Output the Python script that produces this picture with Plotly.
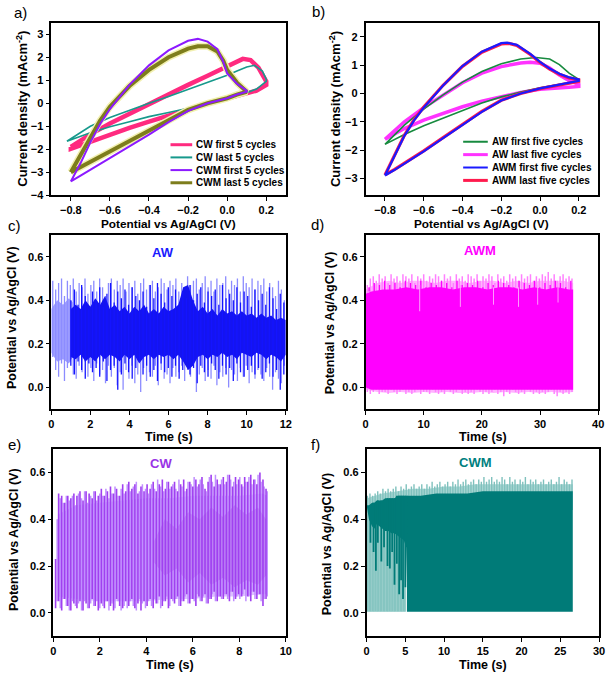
import numpy as np
import plotly.graph_objects as go

W, H = 614, 682
FONT = "Liberation Sans"

# ---------------- Panel a: CV of CW / CWM ----------------
cw_first_x = [-0.80,-0.75,-0.70,-0.60,-0.50,-0.40,-0.30,-0.20,-0.10,0.00,0.05,0.08,0.12,0.16,0.20,
              0.20,0.15,0.10,0.05,0.00,-0.10,-0.20,-0.30,-0.40,-0.50,-0.60,-0.70,-0.80]
cw_first_y = [-1.90,-1.62,-1.35,-0.88,-0.45,-0.05,0.38,0.80,1.20,1.62,1.85,1.93,1.88,1.55,0.95,
              0.80,0.55,0.42,0.32,0.20,-0.02,-0.27,-0.52,-0.80,-1.07,-1.38,-1.66,-1.98]
cw_last_x = [-0.82,-0.75,-0.70,-0.60,-0.50,-0.40,-0.30,-0.20,-0.10,0.00,0.05,0.10,0.14,0.18,0.20,
             0.20,0.15,0.10,0.05,0.00,-0.10,-0.20,-0.30,-0.40,-0.50,-0.60,-0.70,-0.82]
cw_last_y = [-1.65,-1.25,-1.00,-0.62,-0.30,0.00,0.30,0.60,0.90,1.22,1.40,1.58,1.65,1.40,1.05,
             0.95,0.62,0.45,0.30,0.15,-0.05,-0.22,-0.40,-0.58,-0.80,-1.02,-1.28,-1.65]
cwm_first_x = [-0.80,-0.77,-0.75,-0.70,-0.65,-0.60,-0.50,-0.40,-0.30,-0.20,-0.15,-0.10,-0.05,-0.02,0.00,0.05,0.10,
               0.10,0.05,0.00,-0.10,-0.20,-0.30,-0.40,-0.50,-0.60,-0.70,-0.75,-0.80]
cwm_first_y = [-3.40,-2.95,-2.60,-1.70,-0.90,-0.25,0.80,1.65,2.30,2.72,2.80,2.68,2.35,1.80,1.30,0.85,0.55,
               0.50,0.38,0.22,0.00,-0.33,-0.82,-1.36,-1.88,-2.40,-2.90,-3.15,-3.40]
cwm_last_x = [-0.80,-0.77,-0.75,-0.70,-0.65,-0.60,-0.50,-0.40,-0.30,-0.20,-0.15,-0.10,-0.05,-0.02,0.00,0.05,0.10,
              0.10,0.05,0.00,-0.10,-0.20,-0.30,-0.40,-0.50,-0.60,-0.70,-0.75,-0.80]
cwm_last_y = [-3.00,-2.55,-2.25,-1.45,-0.75,-0.15,0.75,1.45,2.00,2.38,2.48,2.48,2.25,1.85,1.45,0.90,0.55,
              0.50,0.38,0.22,0.00,-0.29,-0.74,-1.19,-1.64,-2.09,-2.55,-2.78,-3.00]

# ---------------- Panel b: CV of AW / AWM ----------------
aw_first_x = [-0.80,-0.70,-0.60,-0.50,-0.40,-0.30,-0.20,-0.10,-0.02,0.05,0.10,0.15,0.20,
              0.20,0.15,0.10,0.05,0.00,-0.10,-0.20,-0.30,-0.40,-0.50,-0.60,-0.70,-0.80]
aw_first_y = [-1.80,-1.12,-0.55,-0.05,0.40,0.78,1.05,1.22,1.27,1.22,1.02,0.72,0.50,
              0.45,0.38,0.32,0.26,0.20,0.05,-0.12,-0.34,-0.60,-0.86,-1.14,-1.45,-1.80]
aw_last_x = [-0.80,-0.70,-0.60,-0.50,-0.40,-0.30,-0.20,-0.10,-0.05,0.00,0.05,0.10,0.15,0.20,
             0.20,0.15,0.10,0.05,0.00,-0.10,-0.20,-0.30,-0.40,-0.50,-0.60,-0.70,-0.80]
aw_last_y = [-1.62,-1.00,-0.50,-0.05,0.38,0.72,0.95,1.08,1.10,1.07,0.90,0.65,0.45,0.32,
             0.25,0.22,0.20,0.18,0.15,0.04,-0.10,-0.27,-0.47,-0.70,-0.94,-1.24,-1.62]
awm_first_x = [-0.80,-0.75,-0.70,-0.65,-0.60,-0.50,-0.40,-0.30,-0.20,-0.17,-0.12,-0.05,0.00,0.05,0.10,0.15,0.20,
               0.20,0.15,0.10,0.05,0.00,-0.10,-0.20,-0.30,-0.40,-0.50,-0.60,-0.70,-0.75,-0.80]
awm_first_y = [-2.90,-2.20,-1.50,-0.95,-0.50,0.28,0.97,1.48,1.78,1.80,1.72,1.40,1.12,0.88,0.70,0.57,0.50,
               0.45,0.38,0.32,0.25,0.18,0.00,-0.25,-0.65,-1.10,-1.58,-2.05,-2.50,-2.70,-2.90]
awm_last_x = [-0.80,-0.75,-0.70,-0.65,-0.60,-0.50,-0.40,-0.30,-0.20,-0.16,-0.12,-0.05,0.00,0.05,0.10,0.15,0.20,
              0.20,0.15,0.10,0.05,0.00,-0.10,-0.20,-0.30,-0.40,-0.50,-0.60,-0.70,-0.75,-0.80]
awm_last_y = [-2.88,-2.17,-1.48,-0.93,-0.48,0.29,0.96,1.46,1.75,1.77,1.70,1.38,1.10,0.86,0.68,0.55,0.48,
              0.43,0.36,0.30,0.24,0.17,0.00,-0.24,-0.63,-1.08,-1.56,-2.03,-2.48,-2.68,-2.88]

# ---------------- Panel c: AW potential vs time ----------------
aw_pale_core_t = [0.0, 0.3, 0.6, 0.9, 1.1]
aw_pale_core_hi = [0.36, 0.40, 0.38, 0.41, 0.39]
aw_pale_core_lo = [0.16, 0.12, 0.13, 0.11, 0.14]
aw_core_t = [1.0,1.25,1.5,1.75,2.0,2.25,2.5,2.75,3.0,3.25,3.5,3.75,4.0,4.25,4.5,4.75,5.0,5.25,5.5,5.75,
             6.0,6.25,6.5,6.75,7.0,7.25,7.5,7.75,8.0,8.25,8.5,8.75,9.0,9.25,9.5,9.75,10.0,10.25,10.5,10.75,
             11.0,11.25,11.5,11.75,12.0]
aw_core_hi = [0.36,0.38,0.36,0.40,0.37,0.41,0.38,0.42,0.36,0.38,0.35,0.37,0.34,0.37,0.35,0.38,0.34,0.36,0.34,0.37,
              0.35,0.36,0.38,0.46,0.47,0.40,0.35,0.37,0.34,0.36,0.33,0.36,0.34,0.35,0.33,0.35,0.33,0.34,0.32,0.34,
              0.32,0.33,0.31,0.32,0.31]
aw_core_lo = [0.14,0.13,0.15,0.12,0.14,0.12,0.15,0.13,0.15,0.14,0.12,0.15,0.13,0.15,0.11,0.14,0.15,0.13,0.15,0.14,
              0.15,0.13,0.15,0.12,0.08,0.10,0.14,0.15,0.13,0.15,0.14,0.16,0.14,0.15,0.13,0.16,0.15,0.14,0.16,0.15,
              0.13,0.15,0.14,0.12,0.15]
aw_pale_hi = [0.49,0.45,0.48,0.50,0.42,0.49,0.47,0.50,0.44,0.48,
              0.46,0.50,0.43,0.47,0.49,0.44,0.50,0.46,0.42,0.48,
              0.50,0.45,0.49,0.47,0.50,0.44,0.48,0.46,0.49,0.43,
              0.48,0.50,0.45,0.47,0.49,0.44,0.46,0.50,0.48,0.45,
              0.49,0.47,0.50,0.44,0.48,0.46,0.51,0.47,0.49,0.50,
              0.45,0.48,0.51,0.46,0.49,0.44,0.50,0.47,0.48,0.51,
              0.45,0.49,0.47,0.50,0.44,0.51,0.48,0.46,0.50,0.45,
              0.49,0.47,0.50,0.44,0.48,0.46,0.42,0.49,0.45,0.40]
aw_pale_lo = [0.14,0.08,0.05,0.11,0.03,0.09,0.12,0.06,0.04,0.10,
              0.07,0.12,0.05,0.09,0.03,0.11,0.06,0.08,0.02,0.10,
              0.05,0.09,0.01,0.07,-0.01,0.08,0.04,0.10,0.02,0.06,
              -0.02,0.09,0.03,0.07,0.05,0.10,0.01,0.08,0.04,0.06,
              0.02,0.09,0.05,0.07,0.10,0.03,0.08,0.05,0.11,-0.02,
              0.06,0.09,0.03,0.08,0.04,0.10,0.01,0.07,0.05,0.09,
              0.00,0.08,0.06,0.03,0.09,0.05,0.10,0.02,0.07,0.04,
              0.08,0.06,0.03,0.09,0.05,-0.01,0.07,0.04,0.02,0.10]
aw_dark_hi = [0.40,0.45,0.38,0.47,0.42,0.36,0.44,0.40,0.46,0.37,0.43,0.48,0.39,0.44,0.41,0.45,0.38,0.46,0.42,0.40,
              0.44,0.37,0.47,0.41,0.48,0.43,0.39,0.46,0.42,0.45,0.38,0.44,0.41,0.47,0.40,0.43,0.46,0.39,0.44,0.42,
              0.45,0.38,0.47,0.41,0.43,0.40,0.46,0.39,0.44,0.42,0.37,0.45,0.40,0.43,0.38,0.46,0.41,0.36,0.43,0.39]
aw_dark_lo = [0.10,0.06,0.12,0.08,0.04,0.11,0.07,0.09,0.05,0.12,0.03,0.08,0.10,-0.01,0.06,0.11,0.07,0.04,0.09,0.12,
              0.06,0.10,0.05,0.08,0.03,0.11,0.07,0.09,0.05,0.10,0.04,0.08,0.12,0.06,0.09,0.02,0.10,0.07,0.05,0.11,
              0.08,0.04,0.10,0.06,0.09,0.03,0.11,0.07,0.05,0.08,0.10,0.06,0.09,0.04,0.07,0.11,0.05,0.08,-0.01,0.06]

# ---------------- Panel d: AWM potential vs time ----------------
awm_core_t = [0.05, 1, 3, 5, 7, 9, 11, 13, 15, 17, 19, 21, 23, 25, 27, 29, 31, 33, 35, 35.7]
awm_core_hi = [0.43,0.44,0.45,0.45,0.46,0.45,0.46,0.46,0.45,0.46,0.46,0.45,0.46,0.46,0.45,0.46,0.45,0.46,0.45,0.45]
awm_core_lo = [0.00,-0.01,-0.01,-0.01,-0.01,-0.01,-0.01,-0.01,-0.01,-0.01,-0.01,-0.01,-0.01,-0.01,-0.01,-0.01,-0.01,-0.01,-0.01,-0.01]
awm_fringe_t = [0.05, 2, 4, 6, 8, 10, 12, 14, 16, 18, 20, 22, 24, 26, 28, 30, 32, 34, 35.7]
awm_fringe_hi = [0.45,0.48,0.49,0.48,0.49,0.49,0.48,0.49,0.49,0.48,0.49,0.49,0.48,0.49,0.48,0.49,0.49,0.49,0.48]
awm_fringe_lo = [-0.01,-0.02,-0.025,-0.02,-0.025,-0.02,-0.025,-0.02,-0.025,-0.025,-0.02,-0.025,-0.02,-0.025,-0.02,-0.025,-0.02,-0.025,-0.02]
awm_tip_hi = [0.47,0.50,0.51,0.49,0.52,0.50,0.51,0.48,0.52,0.50,0.51,0.49,0.52,0.51,0.50,0.52,0.48,0.51,0.50,0.52,
              0.49,0.51,0.50,0.52,0.51,0.49,0.52,0.50,0.51,0.48,0.52,0.50,0.51,0.49,0.52,0.51,0.50,0.52,0.49,0.51,
              0.50,0.52,0.51,0.48,0.52,0.50,0.51,0.49,0.52,0.50,0.51,0.49,0.52,0.50,0.51,0.52,0.49,0.51,0.50,0.52,
              0.51,0.53,0.50,0.52,0.49,0.51,0.52,0.50,0.51,0.50]
awm_tip_lo = [-0.02,-0.03,-0.02,-0.01,-0.03,-0.02,-0.02,-0.03,-0.01,-0.02,-0.03,-0.02,-0.01,-0.03,-0.02,-0.03,-0.02,-0.01,-0.03,-0.02,
              -0.02,-0.03,-0.01,-0.02,-0.03,-0.02,-0.03,-0.01,-0.02,-0.03,-0.02,-0.01,-0.03,-0.02,-0.03,-0.02,-0.03,-0.01,-0.02,-0.03,
              -0.02,-0.03,-0.02,-0.01,-0.03,-0.02,-0.04,-0.02,-0.03,-0.01,-0.02,-0.03,-0.02,-0.03,-0.01,-0.02,-0.03,-0.02,-0.03,-0.02,
              -0.03,-0.02,-0.01,-0.03,-0.04,-0.02,-0.03,-0.02,-0.03,-0.02]
awm_dtip_hi = [0.46,0.48,0.47,0.49,0.47,0.48,0.46,0.49,0.48,0.47,0.49,0.46,0.48,0.47,0.49,0.48,0.46,0.49,0.47,0.48,
               0.47,0.49,0.46,0.48,0.47,0.49,0.48,0.47,0.46,0.49,0.48,0.47,0.49,0.46,0.48,0.47,0.49,0.48,0.46,0.49]
awm_notch_t = [9.3, 16.3, 22.0, 26.3, 29.6, 33.1]
awm_notch_lo = [0.35, 0.37, 0.38, 0.37, 0.38, 0.39]
awm_notch_hi = [0.47, 0.47, 0.46, 0.46, 0.47, 0.48]

# ---------------- Panel e: CW potential vs time ----------------
cw_core_t = [0.2, 1, 2, 3, 4, 5, 6, 7, 8, 9, 9.2]
cw_core_hi = [0.42,0.46,0.47,0.48,0.49,0.49,0.50,0.50,0.50,0.51,0.50]
cw_core_lo = [0.07,0.06,0.05,0.05,0.05,0.06,0.06,0.07,0.07,0.08,0.08]
cw_dcore_t = [4.3, 4.8, 5.3, 5.8, 6.3, 6.8, 7.3, 7.8, 8.3, 8.8, 9.15]
cw_dcore_hi = [0.30,0.40,0.36,0.43,0.40,0.45,0.41,0.46,0.42,0.45,0.40]
cw_dcore_lo = [0.22,0.16,0.19,0.13,0.17,0.12,0.15,0.11,0.14,0.12,0.16]
cw_dark_hi = [0.23,0.51,0.50,0.47,0.50,0.49,0.51,
              0.50,0.52,0.48,0.52,0.51,0.49,0.52,0.50,
              0.53,0.50,0.52,0.54,0.51,0.53,0.50,0.55,
              0.52,0.56,0.53,0.55,0.51,0.54,0.52,0.55,
              0.53,0.56,0.52,0.55,0.57,0.53,0.56,0.54,
              0.56,0.52,0.55,0.57,0.53,0.56,0.54,0.57,
              0.55,0.58,0.53,0.56,0.59,0.54,0.57,0.55,
              0.58,0.56,0.59,0.54,0.58,0.57,0.55,0.58,
              0.56,0.59,0.57,0.55,0.60,0.57,0.53]
cw_dark_lo = [0.02,0.05,0.01,0.06,0.03,0.01,0.04,
              0.02,0.05,0.01,0.04,0.02,0.06,0.03,0.01,
              0.04,0.02,0.05,0.03,0.01,0.06,0.03,0.02,
              0.05,0.03,0.06,0.02,0.04,0.01,0.05,0.03,
              0.06,0.02,0.04,0.07,0.03,0.05,0.02,0.06,
              0.04,0.07,0.03,0.05,0.08,0.04,0.06,0.03,
              0.07,0.05,0.08,0.04,0.06,0.09,0.05,0.07,
              0.06,0.08,0.05,0.09,0.06,0.08,0.07,0.10,
              0.07,0.05,0.09,0.06,0.08,0.03,0.06]
cw_pale_hi = [0.40,0.49,0.47,0.50,0.48,0.50,0.46,
              0.51,0.49,0.52,0.47,0.50,0.52,0.48,0.51,
              0.50,0.53,0.49,0.51,0.54,0.50,0.53,0.51,
              0.55,0.52,0.54,0.56,0.52,0.55,0.53,0.51,
              0.55,0.53,0.57,0.54,0.52,0.56,0.53,0.55,
              0.53,0.57,0.54,0.52,0.56,0.55,0.58,0.54,
              0.57,0.55,0.52,0.58,0.56,0.59,0.55,0.57,
              0.55,0.59,0.57,0.56,0.55,0.58,0.54,0.56,
              0.58,0.55,0.57,0.59,0.56,0.54,0.52]
cw_pale_lo = [0.05,0.02,0.06,0.03,0.01,0.05,0.03,
              0.04,0.01,0.05,0.02,0.04,0.03,0.05,0.02,
              0.03,0.05,0.01,0.04,0.02,0.05,0.01,0.03,
              0.02,0.05,0.03,0.01,0.06,0.04,0.02,0.05,
              0.03,0.06,0.04,0.02,0.05,0.07,0.03,0.05,
              0.06,0.03,0.05,0.07,0.04,0.06,0.05,0.08,
              0.05,0.07,0.04,0.06,0.08,0.05,0.07,0.06,
              0.08,0.06,0.09,0.05,0.07,0.06,0.08,0.05,
              0.07,0.09,0.06,0.08,0.05,0.06,0.07]

# ---------------- Panel f: CWM potential vs time ----------------
cwm_core_t = [5.2, 7, 9, 11, 13, 15, 17, 19, 21, 23, 25, 26.6]
cwm_core_hi = [0.50,0.50,0.51,0.51,0.51,0.52,0.52,0.52,0.52,0.52,0.52,0.52]
cwm_core_lo = [0.005,0.005,0.005,0.005,0.005,0.005,0.005,0.005,0.005,0.005,0.005,0.005]
cwm_fringe_t = [0.05, 2, 4, 6, 8, 10, 12, 14, 16, 18, 20, 22, 24, 26.6]
cwm_fringe_hi = [0.49,0.51,0.52,0.53,0.53,0.54,0.54,0.55,0.55,0.55,0.55,0.55,0.55,0.55]
cwm_early_t = [0.05, 0.3, 0.7, 1.0, 1.3, 1.6, 2.0, 2.4, 2.8, 3.2, 3.6, 4.0, 4.4, 4.8, 5.1, 5.3]
cwm_early_hi = [0.46,0.46,0.47,0.47,0.48,0.48,0.48,0.49,0.49,0.49,0.49,0.50,0.50,0.50,0.50,0.50]
cwm_early_lo = [0.45,0.40,0.37,0.36,0.38,0.37,0.36,0.35,0.35,0.34,0.34,0.33,0.32,0.31,0.28,0.005]
cwm_tip_hi = [0.50,0.51,0.50,0.51,0.52,0.51,0.53,0.52,0.53,0.52,
              0.53,0.54,0.52,0.54,0.53,0.55,0.53,0.54,0.55,0.53,
              0.54,0.55,0.53,0.55,0.54,0.56,0.54,0.55,0.56,0.54,
              0.55,0.56,0.54,0.56,0.55,0.57,0.55,0.56,0.57,0.55,
              0.56,0.57,0.55,0.57,0.56,0.58,0.56,0.57,0.58,0.56,
              0.57,0.56,0.58,0.57,0.55,0.58,0.56,0.57,0.55,0.57,
              0.56,0.58,0.55,0.57,0.56,0.57,0.55,0.56,0.57,0.55,
              0.56,0.57,0.55,0.56,0.58,0.55,0.57,0.56,0.55,0.57]
cwm_pale_t = [0.15,0.35,0.55,0.75,0.95,1.15,1.35,1.55,1.75,1.95,2.15,2.35,2.55,2.75,2.95,3.15,3.35,3.55,
              3.75,3.95,4.15,4.35,4.55,4.75,4.95]
cwm_pale_hi = [0.45,0.42,0.40,0.38,0.40,0.39,0.40,0.38,0.39,0.37,0.38,0.36,0.38,0.37,0.36,0.38,0.35,0.37,
               0.36,0.35,0.37,0.34,0.36,0.35,0.33]
cwm_dark_t = [0.5, 0.9, 1.2, 1.45, 1.9, 2.25, 2.7, 3.0, 3.3, 3.6, 3.9, 4.2, 4.45, 4.7, 5.0]
cwm_dark_lo = [0.30,0.26,0.18,0.30,0.22,0.28,0.20,0.19,0.26,0.12,0.21,0.08,0.14,0.06,0.11]
cwm_dark_hi = [0.46,0.47,0.47,0.48,0.48,0.48,0.49,0.49,0.49,0.49,0.50,0.50,0.50,0.50,0.50]

# ---------------- helpers ----------------
def px(x):
    return x / W

def py(y):
    return 1 - y / H

fig = go.Figure()

def line(x, y, color, width, ax):
    fig.add_trace(go.Scatter(x=x, y=y, mode="lines", line=dict(color=color, width=width),
                             xaxis="x" + ax, yaxis="y" + ax, showlegend=False, hoverinfo="skip"))

def band(t, lo, hi, color, ax):
    xs = list(t) + list(t)[::-1]
    ys = list(hi) + list(lo)[::-1]
    fig.add_trace(go.Scatter(x=xs, y=ys, mode="lines", fill="toself", fillcolor=color,
                             line=dict(width=0, color=color), xaxis="x" + ax, yaxis="y" + ax,
                             showlegend=False, hoverinfo="skip"))

def vlines(t, lo, hi, color, width, ax):
    xs, ys = [], []
    for a, l, h in zip(t, lo, hi):
        xs += [float(a), float(a), None]
        ys += [l, h, None]
    fig.add_trace(go.Scatter(x=xs, y=ys, mode="lines", line=dict(color=color, width=width),
                             xaxis="x" + ax, yaxis="y" + ax, showlegend=False, hoverinfo="skip",
                             connectgaps=False))

def closed(x, y):
    return x + x[:1], y + y[:1]

# Panel a
line(*closed(cw_first_x, cw_first_y), "#ff2a7f", 4.5, "")
line(*closed(cw_last_x, cw_last_y), "#17998c", 1.6, "")
line(*closed(cwm_last_x, cwm_last_y), "#f2f0b0", 7, "")
line(*closed(cwm_last_x, cwm_last_y), "#7d7d1c", 4, "")
line(*closed(cwm_first_x, cwm_first_y), "#8c1aff", 2, "")

# Panel b
line(*closed(aw_last_x, aw_last_y), "#ff33ff", 3.5, "2")
line(*closed(aw_first_x, aw_first_y), "#178a3f", 1.6, "2")
line(*closed(awm_last_x, awm_last_y), "#ff1a4d", 3.2, "2")
line(*closed(awm_first_x, awm_first_y), "#1a1aff", 2.2, "2")

# Panel c
aw_spike_t = np.linspace(0.075, 11.925, len(aw_pale_hi))
aw_dark_t = np.linspace(1.0, 11.9, len(aw_dark_hi))
band(aw_pale_core_t, aw_pale_core_lo, aw_pale_core_hi, "#9d9dff", "3")
vlines(aw_spike_t, aw_pale_lo, aw_pale_hi, "#8c8cff", 1.3, "3")
band(aw_core_t, aw_core_lo, aw_core_hi, "#1414f0", "3")
vlines(aw_dark_t, aw_dark_lo, aw_dark_hi, "#1414ff", 1.3, "3")

# Panel d
awm_tip_t = np.linspace(0.3, 35.5, len(awm_tip_hi))
awm_dtip_t = np.linspace(0.6, 35.3, len(awm_dtip_hi))
band(awm_fringe_t, awm_fringe_lo, awm_fringe_hi, "#ffb3ff", "4")
vlines(awm_tip_t, awm_tip_lo, awm_tip_hi, "#ff80ff", 1.5, "4")
band(awm_core_t, awm_core_lo, awm_core_hi, "#ff00ff", "4")
vlines(awm_dtip_t, [0.44] * len(awm_dtip_hi), awm_dtip_hi, "#ff00ff", 1.3, "4")
vlines(awm_notch_t, awm_notch_lo, awm_notch_hi, "#ff99ff", 1.0, "4")

# Panel e
cw_dark_t = np.linspace(0.1, 9.15, len(cw_dark_hi))
cw_pale_t = np.linspace(0.17, 9.2, len(cw_pale_hi))
band(cw_core_t, cw_core_lo, cw_core_hi, "#dcc0ff", "5")
vlines(cw_pale_t, cw_pale_lo, cw_pale_hi, "#c08fff", 1.5, "5")
band(cw_dcore_t, cw_dcore_lo, cw_dcore_hi, "#bb80f5", "5")
vlines(cw_dark_t, cw_dark_lo, cw_dark_hi, "#a040f0", 1.6, "5")

# Panel f
cwm_tip_t = np.linspace(0.1, 26.5, len(cwm_tip_hi))
band(cwm_fringe_t, [0.44] * len(cwm_fringe_t), cwm_fringe_hi, "#a8d6d3", "6")
vlines(cwm_tip_t, [0.44] * len(cwm_tip_hi), cwm_tip_hi, "#7fc1bd", 1.4, "6")
vlines(cwm_pale_t, [0.005] * len(cwm_pale_t), cwm_pale_hi, "#86c5c1", 1.8, "6")
band(cwm_core_t, cwm_core_lo, cwm_core_hi, "#007b78", "6")
band(cwm_early_t, cwm_early_lo, cwm_early_hi, "#007b78", "6")
vlines(cwm_dark_t, cwm_dark_lo, cwm_dark_hi, "#007b78", 1.8, "6")

# ---------------- axes ----------------
tickfont = dict(family=FONT, size=11, color="black", weight="bold")

def axis(domain, rng, dtick, fmt, anchor, tick0=None):
    d = dict(domain=domain, range=rng, dtick=dtick, tickformat=fmt, anchor=anchor,
             showline=True, linecolor="black", linewidth=1.5, mirror=True,
             ticks="outside", ticklen=4, tickwidth=1.3, tickcolor="black",
             showgrid=False, zeroline=False, tickfont=tickfont, fixedrange=True)
    if tick0 is not None:
        d["tick0"] = tick0
    return d

colL = [px(49), px(287)]
colR = [px(368), px(604)]
row1 = [py(197), py(23)]
row2 = [py(413), py(237)]
row3 = [py(642), py(453)]

fig.update_layout(
    width=W, height=H, margin=dict(l=0, r=0, t=0, b=0),
    paper_bgcolor="white", plot_bgcolor="white", showlegend=False,
    xaxis=axis(colL, [-0.9, 0.3], 0.2, ".1f", "y", tick0=-0.8),
    yaxis=axis(row1, [-4, 3.5], 1, "d", "x"),
    xaxis2=axis(colR, [-0.9, 0.3], 0.2, ".1f", "y2", tick0=-0.8),
    yaxis2=axis(row1, [-3.6, 2.5], 1, "d", "x2"),
    xaxis3=axis(colL, [0, 12], 2, "d", "y3"),
    yaxis3=axis(row2, [-0.1, 0.7], 0.2, ".1f", "x3", tick0=0),
    xaxis4=axis(colR, [0, 40], 10, "d", "y4"),
    yaxis4=axis(row2, [-0.1, 0.7], 0.2, ".1f", "x4", tick0=0),
    xaxis5=axis([px(51), px(287)], [0, 10], 2, "d", "y5"),
    yaxis5=axis(row3, [-0.1, 0.7], 0.2, ".1f", "x5", tick0=0),
    xaxis6=axis([px(369), px(605)], [0, 30], 5, "d", "y6"),
    yaxis6=axis(row3, [-0.1, 0.7], 0.2, ".1f", "x6", tick0=0),
)

ann = []
shapes = []

def text(x, y, s, size, color="black", bold=True, angle=0, xanchor="center"):
    ann.append(dict(x=px(x), y=py(y), xref="paper", yref="paper", text=s, showarrow=False,
                    xanchor=xanchor, yanchor="middle", textangle=angle,
                    font=dict(family=FONT, size=size, color=color,
                              weight="bold" if bold else "normal")))

# panel letters
text(9, 13, "a)", 15, bold=False, xanchor="left")
text(312, 12, "b)", 15, bold=False, xanchor="left")
text(3, 228, "c)", 15, bold=False, xanchor="left")
text(311, 226, "d)", 15, bold=False, xanchor="left")
text(3, 448, "e)", 15, bold=False, xanchor="left")
text(311, 448, "f)", 15, bold=False, xanchor="left")

# axis titles
text(168, 226, "Potential vs Ag/AgCl (V)", 11.8)
text(486, 226, "Potential vs Ag/AgCl (V)", 11.8)
text(168, 441, "Time (s)", 12.5)
text(487, 441, "Time (s)", 12.5)
text(169, 671, "Time (s)", 12.5)
text(487, 671, "Time (s)", 12.5)
text(19, 110, "Current density (mAcm<sup>-2</sup>)", 13, angle=-90)
text(337, 110, "Current density (mAcm<sup>-2</sup>)", 13, angle=-90)
text(9, 320, "Potential vs Ag/AgCl (V)", 12.5, angle=-90)
text(332, 326, "Potential vs Ag/AgCl (V)", 12.5, angle=-90)
text(11, 544, "Potential vs Ag/AgCl (V)", 12.5, angle=-90)
text(329, 549, "Potential vs Ag/AgCl (V)", 12.5, angle=-90)

# inner labels
text(162, 255, "AW", 13, color="#1a1aff")
text(484, 253, "AWM", 13, color="#ff00ff")
text(160, 468, "CW", 13, color="#9933e6")
text(480, 467, "CWM", 13, color="#008080")

# legends
leg_a = [("CW first 5 cycles", "#ff2a7f", 3), ("CW last 5 cycles", "#17998c", 2),
         ("CWM first 5 cycles", "#8c1aff", 2), ("CWM last 5 cycles", "#7d7d1c", 3)]
for i, (lab, col, wd) in enumerate(leg_a):
    yy = 146 + i * 12.8
    shapes.append(dict(type="line", xref="paper", yref="paper", x0=px(170), x1=px(192),
                       y0=py(yy), y1=py(yy), line=dict(color=col, width=wd)))
    text(194, yy, lab, 10, xanchor="left")

leg_b = [("AW first five cycles", "#178a3f", 2), ("AW last five cycles", "#ff33ff", 3),
         ("AWM first five cycles", "#1a1aff", 2), ("AWM last five cycles", "#ff1a4d", 3)]
for i, (lab, col, wd) in enumerate(leg_b):
    yy = 143 + i * 13
    shapes.append(dict(type="line", xref="paper", yref="paper", x0=px(467), x1=px(492),
                       y0=py(yy), y1=py(yy), line=dict(color=col, width=wd)))
    text(494, yy, lab, 10, xanchor="left")

fig.update_layout(annotations=ann, shapes=shapes)
fig.write_html("out.html", config={"displayModeBar": False},
               post_script="document.body.style.margin='0';document.body.style.overflow='hidden';")
